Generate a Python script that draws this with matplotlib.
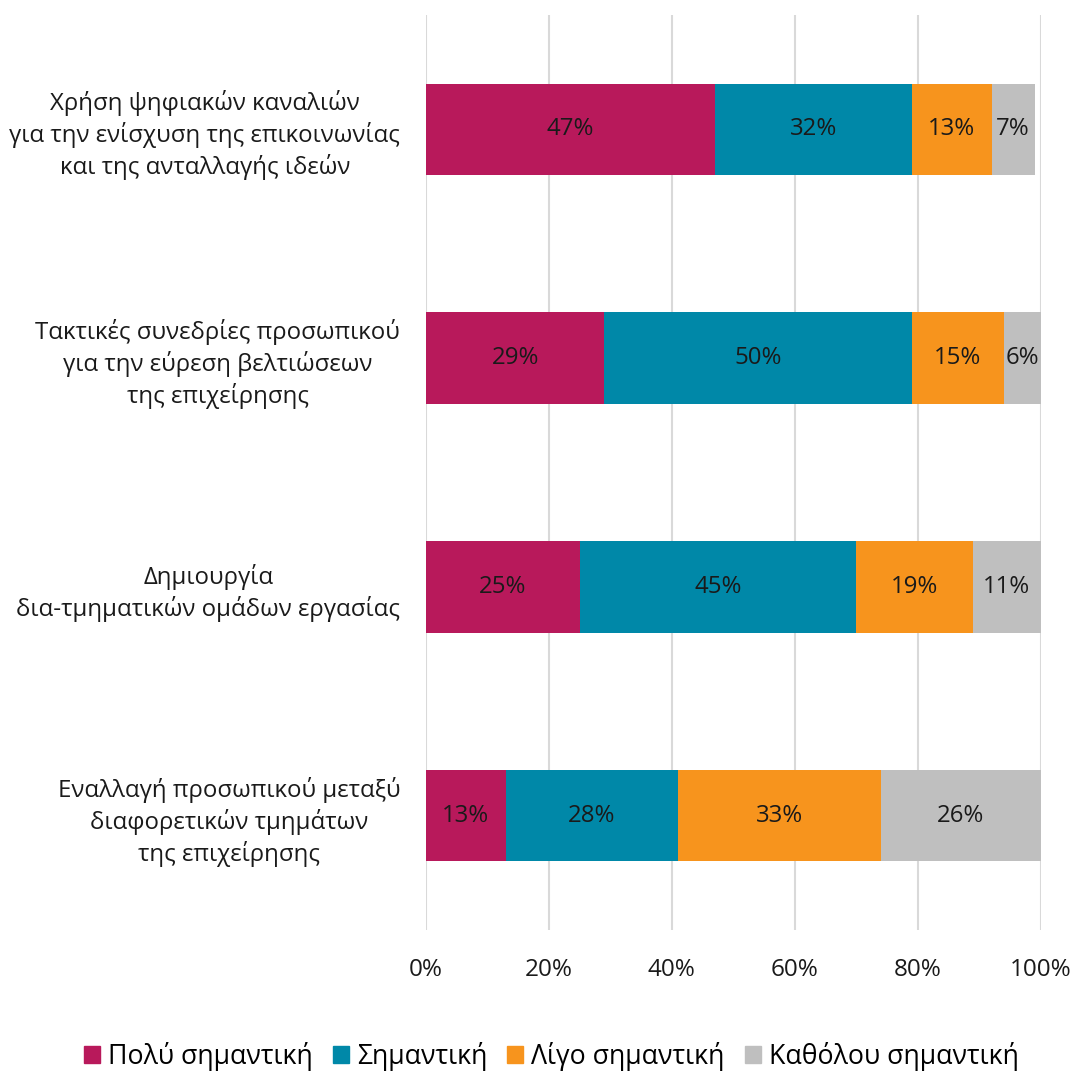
import numpy as np
import matplotlib.pyplot as plt
from matplotlib.patches import Patch

plt.rcParams['font.family'] = ['Open Sans', 'DejaVu Sans']

categories = [
    'Χρήση ψηφιακών καναλιών\nγια την ενίσχυση της επικοινωνίας\nκαι της ανταλλαγής ιδεών',
    'Τακτικές συνεδρίες προσωπικού\nγια την εύρεση βελτιώσεων\nτης επιχείρησης',
    'Δημιουργία\nδια-τμηματικών ομάδων εργασίας',
    'Εναλλαγή προσωπικού μεταξύ\nδιαφορετικών τμημάτων\nτης επιχείρησης',
]
series_names = ['Πολύ σημαντική', 'Σημαντική', 'Λίγο σημαντική', 'Καθόλου σημαντική']
very = [47, 29, 25, 13]
important = [32, 50, 45, 28]
little = [13, 15, 19, 33]
none_ = [7, 6, 11, 26]
colors = ['#B8195B', '#0088A8', '#F7941D', '#BFBFBF']
xticks = [0, 20, 40, 60, 80, 100]

fig = plt.figure(figsize=(10.73, 10.75), dpi=100)
ax = fig.add_axes([0.397, 0.135, 0.573, 0.851])

y = np.arange(len(categories))
left = np.zeros(len(categories))
for vals, color, name in zip([very, important, little, none_], colors, series_names):
    vals = np.array(vals, dtype=float)
    ax.barh(y, vals, left=left, height=0.4, color=color, label=name, zorder=2)
    for yi, l, v in zip(y, left, vals):
        ax.text(l + v / 2, yi, f'{int(v)}%', ha='center', va='center',
                fontsize=17.3, color='#1a1a1a', zorder=3)
    left += vals

ax.set_ylim(3.5, -0.5)
ax.set_xlim(0, 100)
ax.set_xticks(xticks)
ax.set_xticklabels([f'{t}%' for t in xticks], fontsize=17.5, color='#1a1a1a')
ax.set_yticks(y)
ax.set_yticklabels(categories, fontsize=17.3, color='#1a1a1a', ha='right',
                   multialignment='center', linespacing=1.3)
ax.tick_params(axis='y', length=0, pad=18.5)
ax.tick_params(axis='x', length=0, pad=20)
ax.grid(axis='x', color='#D9D9D9', linewidth=1.5, zorder=0)
for s in ax.spines.values():
    s.set_visible(False)

handles = [Patch(color=c, label=n) for c, n in zip(colors, series_names)]
fig.legend(handles=handles, loc='center', bbox_to_anchor=(0.514, 0.017), ncol=4,
           frameon=False, fontsize=19.2, handlelength=0.6, handleheight=0.6,
           handletextpad=0.3, columnspacing=0.75)

plt.savefig('out.png', dpi=100)
